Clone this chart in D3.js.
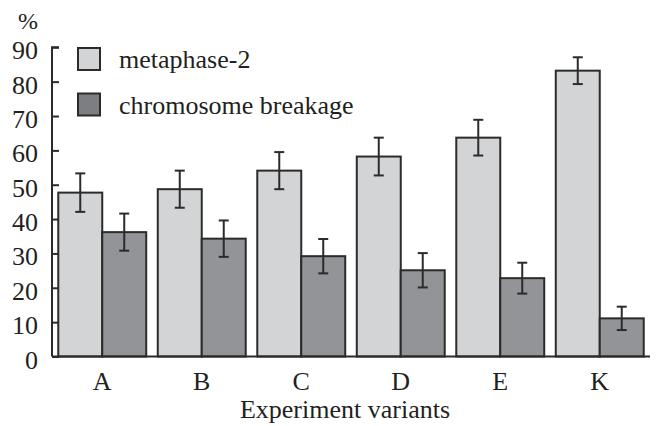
<!DOCTYPE html>
<html>
<head>
<meta charset="utf-8">
<script src="https://cdn.jsdelivr.net/npm/d3@7"></script>
<style>
  html, body { margin: 0; padding: 0; background: #fff; }
  svg { display: block; }
</style>
</head>
<body>
<svg id="chart" width="657" height="426"></svg>
<script>
const categories = ["A", "B", "C", "D", "E", "K"];
const seriesNames = ["metaphase-2", "chromosome breakage"];
const metaphase = [47.7, 48.7, 54.1, 58.2, 63.7, 83.2];
const metaphaseErr = [5.6, 5.4, 5.4, 5.5, 5.2, 3.9];
const breakage = [36.2, 34.3, 29.2, 25.1, 22.8, 11.1];
const breakageErr = [5.4, 5.3, 5.0, 5.0, 4.5, 3.4];
const yTicks = [0, 10, 20, 30, 40, 50, 60, 70, 80, 90];

const barColors = ["#d3d4d6", "#939498"];
const legendColors = ["#d3d4d6", "#7d7e82"];
const ink = "#2b2b2b";
const textColor = "#231f20";
const FONT = '"Liberation Serif", "Times New Roman", serif';
const fontSize = 26;

const svg = d3.select("#chart");
const x0 = 52, x1 = 650, yTop = 47.3, yBottom = 356.5;

function styleText(sel, size) {
  return sel.style("font-family", FONT).style("font-size", size + "px").attr("fill", textColor);
}

const y = d3.scaleLinear().domain([0, 90]).range([yBottom, yTop]);
const x = d3.scaleBand().domain(categories).range([x0, x1])
  .paddingInner(0.116).paddingOuter(0.063);
const xs = d3.scaleBand().domain([0, 1]).range([0, x.bandwidth()]).padding(0);

const rows = categories.map((c, i) => ({
  cat: c,
  vals: [
    { s: 0, v: metaphase[i], e: metaphaseErr[i] },
    { s: 1, v: breakage[i], e: breakageErr[i] }
  ]
}));

// bars
const g = svg.append("g");
const groups = g.selectAll("g.grp").data(rows).join("g")
  .attr("transform", d => `translate(${x(d.cat)},0)`);
groups.selectAll("rect").data(d => d.vals).join("rect")
  .attr("x", d => xs(d.s))
  .attr("y", d => y(d.v))
  .attr("width", xs.bandwidth())
  .attr("height", d => y(0) - y(d.v))
  .attr("fill", d => barColors[d.s])
  .attr("stroke", ink)
  .attr("stroke-width", 2);

// error bars
const cap = 5;
const eb = groups.selectAll("g.eb").data(d => d.vals).join("g")
  .attr("stroke", ink).attr("stroke-width", 2);
eb.append("line")
  .attr("x1", d => xs(d.s) + xs.bandwidth() / 2)
  .attr("x2", d => xs(d.s) + xs.bandwidth() / 2)
  .attr("y1", d => y(d.v + d.e))
  .attr("y2", d => y(d.v - d.e));
eb.append("line")
  .attr("x1", d => xs(d.s) + xs.bandwidth() / 2 - cap)
  .attr("x2", d => xs(d.s) + xs.bandwidth() / 2 + cap)
  .attr("y1", d => y(d.v + d.e))
  .attr("y2", d => y(d.v + d.e));
eb.append("line")
  .attr("x1", d => xs(d.s) + xs.bandwidth() / 2 - cap)
  .attr("x2", d => xs(d.s) + xs.bandwidth() / 2 + cap)
  .attr("y1", d => y(d.v - d.e))
  .attr("y2", d => y(d.v - d.e));

// y axis (ticks pointing inward)
const yAxis = d3.axisRight(y).tickValues(yTicks).tickSize(7).tickFormat("");
const ya = svg.append("g").attr("transform", `translate(${x0},0)`).call(yAxis);
ya.select(".domain").attr("stroke", ink).attr("stroke-width", 2)
  .attr("d", `M7,${yTop}H0V${yBottom}`);
ya.selectAll(".tick line").attr("stroke", ink).attr("stroke-width", 2);
// y tick labels
styleText(svg.append("g").selectAll("text").data(yTicks).join("text")
  .attr("x", 38)
  .attr("y", d => y(d) + 12)
  .attr("text-anchor", "end")
  .text(d => d), fontSize);

// x baseline
svg.append("line")
  .attr("x1", x0).attr("x2", x1)
  .attr("y1", y(0)).attr("y2", y(0))
  .attr("stroke", ink).attr("stroke-width", 2);

// x axis labels
const xAxis = d3.axisBottom(x).tickSize(0).tickPadding(0);
const xa = svg.append("g").attr("transform", `translate(0,${y(0)})`).call(xAxis);
xa.select(".domain").remove();
styleText(xa.selectAll(".tick text").attr("y", 33).attr("dy", null), fontSize);

// axis title
styleText(svg.append("text")
  .attr("x", 345)
  .attr("y", 418)
  .attr("text-anchor", "middle")
  .text("Experiment variants"), fontSize);

// % label
styleText(svg.append("text")
  .attr("x", 28).attr("y", 29)
  .attr("text-anchor", "middle")
  .text("%"), 24);

// legend
const legend = svg.append("g");
const li = legend.selectAll("g").data(seriesNames).join("g")
  .attr("transform", (d, i) => `translate(78,${48 + i * 45.5})`);
li.append("rect")
  .attr("width", 22).attr("height", 22)
  .attr("fill", (d, i) => legendColors[i])
  .attr("stroke", ink).attr("stroke-width", 2);
styleText(li.append("text")
  .attr("x", 41).attr("y", 20.3)
  .text(d => d), fontSize);
</script>
</body>
</html>
